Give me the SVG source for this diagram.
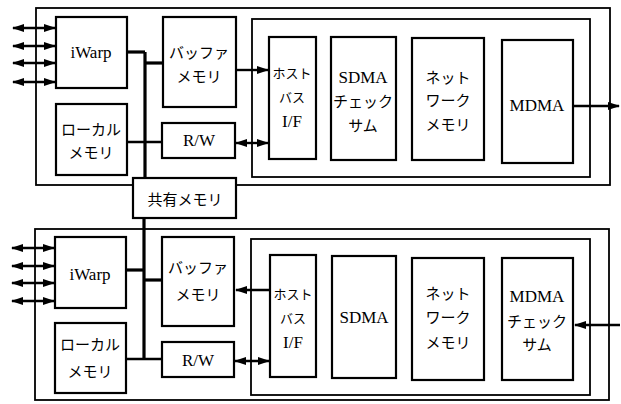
<svg xmlns="http://www.w3.org/2000/svg" width="621" height="404" viewBox="0 0 621 404">
<style>
.bx{fill:#fff;stroke:#000;stroke-width:2.2}
.ob{fill:none;stroke:#000;stroke-width:1.8}
.bus{fill:none;stroke:#000;stroke-width:3.2}
.ln{fill:none;stroke:#000;stroke-width:2.4}
.t{font-family:'Liberation Serif',serif;font-size:17px;text-anchor:middle;fill:#000}
.j{font-family:'Noto Sans CJK JP',sans-serif;font-size:15px;text-anchor:middle;fill:#000}
.s{font-size:13px}
</style>
<defs>
<marker id="ah" markerWidth="12" markerHeight="8" refX="11" refY="4" orient="auto-start-reverse" markerUnits="userSpaceOnUse"><path d="M0,0 L12,4 L0,8 z" fill="#000"/></marker>
</defs>
<rect width="621" height="404" fill="#fff"/>

<g id="top-frame">
<rect class="ob" x="36" y="8" width="574" height="177"/>
<rect class="ob" x="252" y="19" width="338" height="158"/>
</g>
<g id="bottom-frame">
<rect class="ob" x="35" y="229" width="574" height="171"/>
<rect class="ob" x="251" y="239" width="339" height="156"/>
</g>

<g id="connectors">
<path class="bus" d="M145,52 V178"/>
<path class="bus" d="M127,52 H145"/>
<path class="bus" d="M145,63 H163"/>
<path class="ln" d="M127,142 H162"/>
<path class="ln" d="M236,70 H268" stroke-width="3" marker-end="url(#ah)"/>
<path class="ln" d="M236,143 H268" marker-start="url(#ah)" marker-end="url(#ah)"/>
<path class="ln" d="M573,106 H619" stroke-width="3" marker-end="url(#ah)"/>
<path class="ln" d="M13,28 H55" marker-start="url(#ah)" marker-end="url(#ah)"/>
<path class="ln" d="M13,46 H55" marker-start="url(#ah)" marker-end="url(#ah)"/>
<path class="ln" d="M13,63 H55" marker-start="url(#ah)" marker-end="url(#ah)"/>
<path class="ln" d="M13,82 H55" marker-start="url(#ah)" marker-end="url(#ah)"/>
<path class="bus" d="M144,218 V359"/>
<path class="bus" d="M126,270 H144"/>
<path class="bus" d="M144,280 H162"/>
<path class="ln" d="M126,359 H162"/>
<path class="ln" d="M270,290 H236" stroke-width="3" marker-end="url(#ah)"/>
<path class="ln" d="M235,361 H269" marker-start="url(#ah)" marker-end="url(#ah)"/>
<path class="ln" d="M620,325 H575" stroke-width="3" marker-end="url(#ah)"/>
<path class="ln" d="M12,248 H54" marker-start="url(#ah)" marker-end="url(#ah)"/>
<path class="ln" d="M12,266 H54" marker-start="url(#ah)" marker-end="url(#ah)"/>
<path class="ln" d="M12,283 H54" marker-start="url(#ah)" marker-end="url(#ah)"/>
<path class="ln" d="M12,301 H54" marker-start="url(#ah)" marker-end="url(#ah)"/>
</g>

<g id="shared-memory">
<rect class="bx" x="133" y="178" width="103" height="40"/>
<text class="j" x="185" y="205">共有メモリ</text>
</g>

<g id="top-iwarp">
<rect class="bx" x="56" y="17" width="71" height="71"/>
<text class="t" x="91" y="58">iWarp</text>
</g>
<g id="top-local-memory">
<rect class="bx" x="56" y="104" width="71" height="71"/>
<text class="j" x="91" y="135">ローカル</text>
<text class="j" x="91" y="158">メモリ</text>
</g>
<g id="top-buffer-memory">
<rect class="bx" x="163" y="17" width="73" height="90"/>
<text class="j" x="199" y="58">バッファ</text>
<text class="j" x="199" y="82">メモリ</text>
</g>
<g id="top-rw">
<rect class="bx" x="162" y="123" width="73" height="35"/>
<text class="t" x="199" y="146">R/W</text>
</g>
<g id="top-host-bus-if">
<rect class="bx" x="269" y="37" width="47" height="122"/>
<text class="j s" x="292" y="78">ホスト</text>
<text class="j s" x="292" y="102">バス</text>
<text class="t" x="292" y="127">I/F</text>
</g>
<g id="top-sdma">
<rect class="bx" x="331" y="37" width="65" height="123"/>
<text class="t" x="363" y="83">SDMA</text>
<text class="j" x="363" y="107">チェック</text>
<text class="j" x="363" y="131">サム</text>
</g>
<g id="top-network-memory">
<rect class="bx" x="412" y="38" width="72" height="122"/>
<text class="j" x="448" y="83">ネット</text>
<text class="j" x="448" y="106">ワーク</text>
<text class="j" x="448" y="130">メモリ</text>
</g>
<g id="top-mdma">
<rect class="bx" x="502" y="40" width="71" height="123"/>
<text class="t" x="537" y="111">MDMA</text>
</g>

<g id="bottom-iwarp">
<rect class="bx" x="55" y="237" width="71" height="71"/>
<text class="t" x="90" y="280">iWarp</text>
</g>
<g id="bottom-local-memory">
<rect class="bx" x="55" y="323" width="71" height="70"/>
<text class="j" x="90" y="350">ローカル</text>
<text class="j" x="90" y="377">メモリ</text>
</g>
<g id="bottom-buffer-memory">
<rect class="bx" x="162" y="237" width="72" height="89"/>
<text class="j" x="198" y="273">バッファ</text>
<text class="j" x="198" y="300">メモリ</text>
</g>
<g id="bottom-rw">
<rect class="bx" x="162" y="342" width="72" height="35"/>
<text class="t" x="198" y="366">R/W</text>
</g>
<g id="bottom-host-bus-if">
<rect class="bx" x="270" y="255" width="46" height="122"/>
<text class="j s" x="293" y="299">ホスト</text>
<text class="j s" x="293" y="323">バス</text>
<text class="t" x="293" y="348">I/F</text>
</g>
<g id="bottom-sdma">
<rect class="bx" x="332" y="256" width="64" height="122"/>
<text class="t" x="364" y="323">SDMA</text>
</g>
<g id="bottom-network-memory">
<rect class="bx" x="412" y="258" width="72" height="122"/>
<text class="j" x="448" y="299">ネット</text>
<text class="j" x="448" y="323">ワーク</text>
<text class="j" x="448" y="348">メモリ</text>
</g>
<g id="bottom-mdma-checksum">
<rect class="bx" x="502" y="258" width="71" height="122"/>
<text class="t" x="537" y="302">MDMA</text>
<text class="j" x="537" y="327">チェック</text>
<text class="j" x="537" y="350">サム</text>
</g>
</svg>
